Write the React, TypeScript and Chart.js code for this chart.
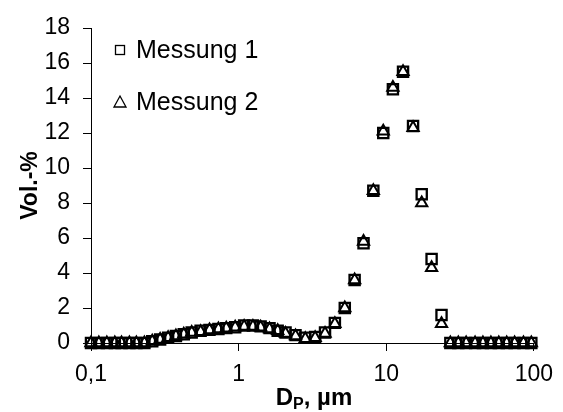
import React, { useEffect, useRef } from 'react';
import { Chart, registerables } from 'chart.js';
Chart.register(...registerables);

// Particle diameter (µm)
const DIAMETERS = [
  0.1, 0.113, 0.128, 0.145, 0.161, 0.182, 0.203, 0.23, 0.26, 0.294,
  0.333, 0.376, 0.425, 0.481, 0.553, 0.635, 0.73, 0.825, 0.948, 1.09,
  1.25, 1.41, 1.62, 1.84, 2.08, 2.43, 2.83, 3.3, 3.85, 4.49,
  5.24, 6.11, 7.02, 8.18, 9.55, 11.1, 13.0, 15.2, 17.4, 20.3,
  23.7, 27.2, 30.8, 34.8, 40.0, 45.2, 51.2, 57.9, 65.5, 74.1,
  85.1, 96.2,
];
// Vol.-% Messung 1 (squares)
const MESSUNG_1 = [
  0, 0, 0, 0, 0, 0, 0, 0, 0.1, 0.2,
  0.3, 0.4, 0.5, 0.6, 0.7, 0.75, 0.8, 0.85, 0.9, 1.0,
  1.0, 0.95, 0.85, 0.7, 0.6, 0.45, 0.3, 0.35, 0.6, 1.15,
  2.0, 3.6, 5.7, 8.7, 12.0, 14.5, 15.5, 12.4, 8.5, 4.8,
  1.6, 0, 0, 0, 0, 0, 0, 0, 0, 0,
  0, 0,
];
// Vol.-% Messung 2 (triangles)
const MESSUNG_2 = [
  0, 0, 0, 0, 0, 0, 0, 0, 0.1, 0.2,
  0.3, 0.4, 0.5, 0.6, 0.65, 0.75, 0.8, 0.85, 0.9, 0.95,
  0.95, 0.9, 0.8, 0.7, 0.55, 0.4, 0.25, 0.3, 0.55, 1.1,
  2.0, 3.6, 5.8, 8.7, 12.1, 14.6, 15.5, 12.3, 8.0, 4.3,
  1.1, 0, 0, 0, 0, 0, 0, 0, 0, 0,
  0, 0,
];
const SERIES_NAMES = ['Messung 1', 'Messung 2'];
const X_TICKS = [0.1, 1, 10, 100];
const Y_MIN = 0;
const Y_MAX = 18;
const Y_STEP = 2;

const FONT = '"Liberation Sans", Arial, sans-serif';

const overlayPlugin = {
  id: 'overlay',
  afterDraw(chart: any) {
    const ctx = chart.ctx as CanvasRenderingContext2D;
    const area = chart.chartArea;
    ctx.save();
    ctx.fillStyle = '#000';
    ctx.strokeStyle = '#000';

    // Legend
    const lx = area.left + 29;
    const ly1 = area.top + 22;
    const ly2 = area.top + 74;
    ctx.lineWidth = 1.3;
    ctx.strokeRect(lx - 4.5, ly1 - 4.5, 9, 9);
    ctx.beginPath();
    ctx.moveTo(lx - 6, ly2 + 5);
    ctx.lineTo(lx + 6, ly2 + 5);
    ctx.lineTo(lx, ly2 - 6);
    ctx.closePath();
    ctx.stroke();
    ctx.font = `25px ${FONT}`;
    ctx.textAlign = 'left';
    ctx.textBaseline = 'middle';
    ctx.fillText(SERIES_NAMES[0], lx + 16, ly1 + 1);
    ctx.fillText(SERIES_NAMES[1], lx + 16, ly2 + 1);

    // Y title
    ctx.save();
    ctx.translate(31, (area.top + area.bottom) / 2);
    ctx.rotate(-Math.PI / 2);
    ctx.font = `bold 23px ${FONT}`;
    ctx.textAlign = 'center';
    ctx.textBaseline = 'middle';
    ctx.fillText('Vol.-%', 0, 0);
    ctx.restore();

    // X title with subscript
    const big = `bold 24px ${FONT}`;
    const small = `bold 16px ${FONT}`;
    ctx.textBaseline = 'alphabetic';
    ctx.textAlign = 'left';
    ctx.font = big;
    const wD = ctx.measureText('D').width;
    const wRest = ctx.measureText(', µm').width;
    ctx.font = small;
    const wP = ctx.measureText('P').width;
    const total = wD + wP + wRest;
    let x = 314 - total / 2;
    const base = 405;
    ctx.font = big;
    ctx.fillText('D', x, base);
    x += wD;
    ctx.font = small;
    ctx.fillText('P', x, base + 4);
    x += wP;
    ctx.font = big;
    ctx.fillText(', µm', x, base);
    ctx.restore();
  },
};

export default function App() {
  const ref = useRef<HTMLCanvasElement | null>(null);
  useEffect(() => {
    document.body.style.margin = '0';
    if (!ref.current) return;
    const toPts = (ys: number[]) => DIAMETERS.map((d, i) => ({ x: d, y: ys[i] }));
    const chart = new Chart(ref.current, {
      type: 'scatter',
      data: {
        datasets: [
          {
            label: SERIES_NAMES[0],
            data: toPts(MESSUNG_1),
            pointStyle: 'rect',
            pointRadius: 7.2,
            borderColor: '#000',
            backgroundColor: 'rgba(0,0,0,0)',
            borderWidth: 2.3,
            showLine: false,
            clip: false,
          },
          {
            label: SERIES_NAMES[1],
            data: toPts(MESSUNG_2),
            pointStyle: 'triangle',
            pointRadius: 6.5,
            borderColor: '#000',
            backgroundColor: 'rgba(0,0,0,0)',
            borderWidth: 2,
            showLine: false,
            clip: false,
          },
        ],
      },
      options: {
        animation: false,
        responsive: true,
        maintainAspectRatio: false,
        events: [],
        layout: { padding: { left: 0, right: 22, top: 28, bottom: 0 } },
        plugins: {
          legend: { display: false },
          tooltip: { enabled: false },
        },
        scales: {
          x: {
            type: 'logarithmic',
            min: 0.1,
            max: 100,
            afterBuildTicks: (s: any) => {
              s.ticks = X_TICKS.map((v) => ({ value: v }));
            },
            afterFit: (s: any) => {
              s.height = 69;
            },
            ticks: {
              callback: (v: any) => String(v).replace('.', ','),
              font: { family: FONT, size: 23 },
              color: '#000',
              padding: 10,
              maxRotation: 0,
              autoSkip: false,
            },
            grid: {
              display: true,
              drawOnChartArea: false,
              drawTicks: true,
              tickLength: 8,
              color: '#000',
            },
            border: { display: true, color: '#000', width: 1 },
          },
          y: {
            min: Y_MIN,
            max: Y_MAX,
            afterFit: (s: any) => {
              s.width = 91;
            },
            ticks: {
              stepSize: Y_STEP,
              font: { family: FONT, size: 23 },
              color: '#000',
              padding: 13,
            },
            grid: {
              display: true,
              drawOnChartArea: false,
              drawTicks: true,
              tickLength: 8,
              color: '#000',
            },
            border: { display: true, color: '#000', width: 1 },
          },
        },
      },
      plugins: [overlayPlugin],
    });
    return () => chart.destroy();
  }, []);
  return (
    <div style={{ width: 563, height: 412, position: 'relative', background: '#fff' }}>
      <canvas ref={ref} />
    </div>
  );
}
